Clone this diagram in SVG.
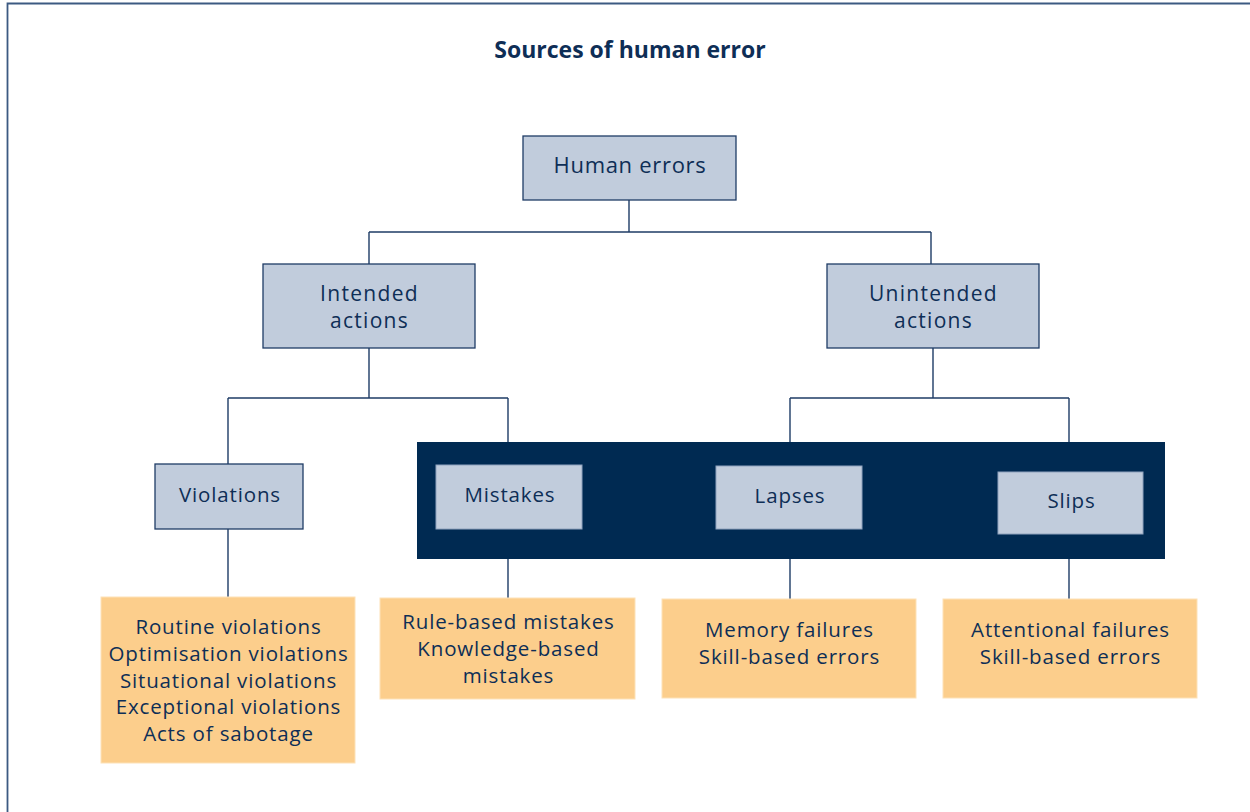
<svg xmlns="http://www.w3.org/2000/svg" width="1250" height="812" viewBox="0 0 1250 812">
  <style>
    text { font-family: "Open Sans", "Noto Sans", "Liberation Sans", sans-serif; fill: #0e2e56; text-anchor: middle; }
    .title { font-size: 23px; font-weight: bold; }
    .lbl { font-size: 22px; letter-spacing: 0.7px; }
    .lbl2 { font-size: 21px; letter-spacing: 1.3px; }
    .sm { font-size: 20.5px; letter-spacing: 0.85px; }
    .blue { fill: #c1ccdc; stroke: #1f3c66; stroke-width: 1.3; }
    .blue-in { fill: #c1ccdc; stroke: #8fa2bd; stroke-width: 1; }
    .orange { fill: #fcce8c; stroke: #fde2b8; stroke-width: 1; }
    .conn { fill: none; stroke: #1f3c66; stroke-width: 1.4; }
  </style>

  <rect width="1250" height="812" fill="#ffffff"/>
  <!-- frame -->
  <path d="M7.5,812 V3.5 H1250" fill="none" stroke="#3c5a82" stroke-width="1.8"/>

  <text class="title" x="630" y="58">Sources of human error</text>

  <!-- dark band grouping mistakes, lapses and slips -->
  <rect id="band" x="417" y="442" width="748" height="117" fill="#002a52"/>

  <g id="connectors">
    <path class="conn" d="M629,200 V232 M369,232 H931 M369,232 V264 M931,232 V264"/>
    <path class="conn" d="M369,348 V398 M228,398 H508 M228,398 V464 M508,398 V442"/>
    <path class="conn" d="M933,348 V398 M790,398 H1069 M790,398 V442 M1069,398 V442"/>
    <path class="conn" d="M228,529 V598 M508,559 V598 M790,559 V599 M1069,559 V599"/>
  </g>

  <g id="human-errors">
    <rect class="blue" x="523" y="136" width="213" height="64"/>
    <text class="lbl" x="630" y="173">Human errors</text>
  </g>

  <g id="intended">
    <rect class="blue" x="263" y="264" width="212" height="84"/>
    <text class="lbl2" x="369.5" y="300.5">Intended<tspan x="369.5" dy="27.5">actions</tspan></text>
  </g>

  <g id="unintended">
    <rect class="blue" x="827" y="264" width="212" height="84"/>
    <text class="lbl2" x="933.5" y="300.5">Unintended<tspan x="933.5" dy="27.5">actions</tspan></text>
  </g>

  <g id="violations">
    <rect class="blue" x="155" y="464" width="148" height="65"/>
    <text class="sm" x="230" y="502">Violations</text>
  </g>

  <g id="mistakes">
    <rect class="blue-in" x="436" y="465" width="146" height="64"/>
    <text class="sm" x="510" y="502">Mistakes</text>
  </g>

  <g id="lapses">
    <rect class="blue-in" x="716" y="466" width="146" height="63"/>
    <text class="sm" x="790" y="503">Lapses</text>
  </g>

  <g id="slips">
    <rect class="blue-in" x="998" y="472" width="145" height="62"/>
    <text class="sm" x="1071.5" y="508">Slips</text>
  </g>

  <g id="violation-types">
    <rect class="orange" x="101" y="597" width="254" height="166"/>
    <text class="sm" x="228.5" y="634">Routine violations<tspan x="228.5" dy="27">Optimisation violations</tspan><tspan x="228.5" dy="27">Situational violations</tspan><tspan x="228.5" dy="26">Exceptional violations</tspan><tspan x="228.5" dy="27">Acts of sabotage</tspan></text>
  </g>

  <g id="mistake-types">
    <rect class="orange" x="380" y="598" width="255" height="101"/>
    <text class="sm" x="508.5" y="629">Rule-based mistakes<tspan x="508.5" dy="27">Knowledge-based</tspan><tspan x="508.5" dy="27">mistakes</tspan></text>
  </g>

  <g id="lapse-types">
    <rect class="orange" x="662" y="599" width="254" height="99"/>
    <text class="sm" x="789.5" y="637">Memory failures<tspan x="789.5" dy="27">Skill-based errors</tspan></text>
  </g>

  <g id="slip-types">
    <rect class="orange" x="943" y="599" width="254" height="99"/>
    <text class="sm" x="1070.5" y="637">Attentional failures<tspan x="1070.5" dy="27">Skill-based errors</tspan></text>
  </g>
</svg>
